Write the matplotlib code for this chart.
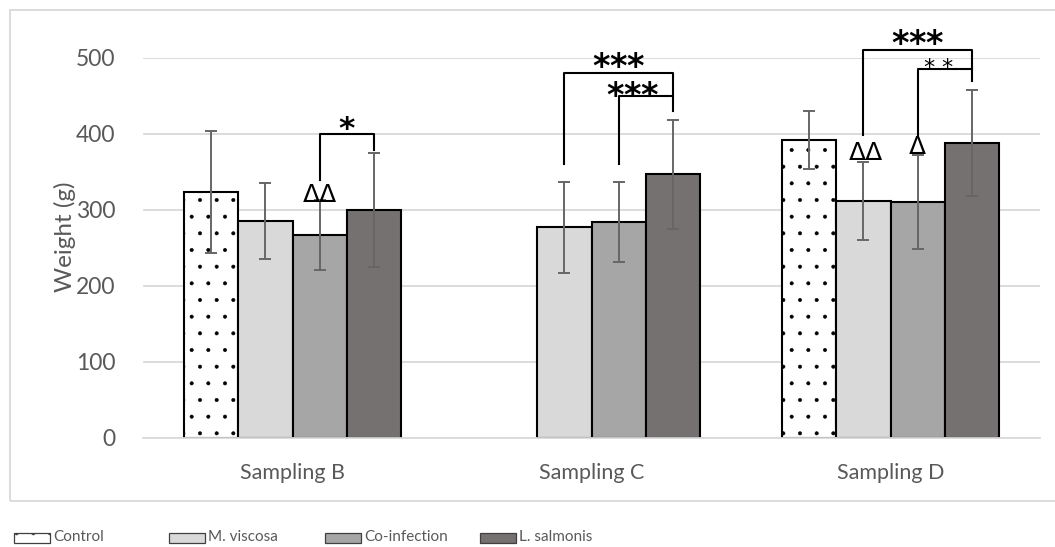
import numpy as np
import matplotlib
matplotlib.use('Agg')
from matplotlib import pyplot as plt
from matplotlib.patches import Rectangle

# weights (g) per sampling, mean and sd
samplings = ['Sampling B', 'Sampling C', 'Sampling D']
groups = ['Control', 'M. viscosa', 'Co-infection', 'L. salmonis']
control = [324, np.nan, 392]
m_viscosa = [286, 277, 312]
co_infection = [267, 284, 311]
l_salmonis = [300, 347, 388]
control_sd = [80, np.nan, 38.5]
m_viscosa_sd = [50, 60, 51.5]
co_infection_sd = [46, 53, 62]
l_salmonis_sd = [75, 71.5, 70]

kolonlar = [control, m_viscosa, co_infection, l_salmonis]
hatalar = [control_sd, m_viscosa_sd, co_infection_sd, l_salmonis_sd]
renkler = ['white', '#D9D9D9', '#A6A6A6', '#767171']
taramalar = ['.', None, None, None]

plt.rcParams['font.family'] = ['Lato', 'DejaVu Sans']
plt.rcParams['hatch.linewidth'] = 0.4
# asterisks go through mathtext so their boxes hug the glyphs
plt.rcParams['mathtext.fontset'] = 'custom'
plt.rcParams['mathtext.rm'] = 'DejaVu Sans:bold'
plt.rcParams['mathtext.sf'] = 'DejaVu Sans'

fig = plt.figure(figsize=(10.55, 5.47), dpi=100)
ax = fig.add_axes([143 / 1055, 1 - 438 / 547, (1040 - 143) / 1055, 380 / 547])

w = 0.1815
x = np.arange(len(samplings))
ofs = [-1.5, -0.5, 0.5, 1.5]
for i in range(4):
    ax.bar(x + ofs[i] * w, kolonlar[i], w, color=renkler[i], edgecolor='black',
           linewidth=1.5, hatch=taramalar[i], zorder=2)
    ax.errorbar(x + ofs[i] * w, kolonlar[i], yerr=hatalar[i], fmt='none',
                ecolor='#666666', elinewidth=1.4, capsize=4, capthick=1.4, zorder=3)

ax.set_xlim(-0.5, 2.5)
ax.set_ylim(0, 500)
ax.set_yticks([0, 100, 200, 300, 400, 500])
ax.yaxis.grid(True, color='#D9D9D9', linewidth=1.3, zorder=0)
ax.set_axisbelow(True)
for s in ['top', 'right', 'left']:
    ax.spines[s].set_visible(False)
ax.spines['bottom'].set_color('#D9D9D9')
ax.spines['bottom'].set_linewidth(1.3)
ax.set_xticks(x)
ax.set_xticklabels(samplings)
ax.tick_params(axis='both', length=0, colors='#595959')
ax.tick_params(axis='y', pad=20, labelsize=16.5)
ax.tick_params(axis='x', pad=18, labelsize=15.5)
ax.set_ylabel('Weight (g)', color='#595959', fontsize=17.5)
ax.yaxis.set_label_coords(-0.075, 0.53)


def orta(k, g):
    return k + ofs[g] * w


def parantez(x1, x2, ust, sol_alt, sag_alt):
    ax.plot([x1, x1, x2, x2], [sol_alt, ust, ust, sag_alt], color='black',
            linewidth=1.5, clip_on=False, zorder=4)


def yildizlar(xp, yp, n, kalin=True, boy=24):
    if kalin:
        metin = r'$\mathrm{' + '{*}' * n + '}$'
    else:
        metin = r'$\mathsf{' + r'\ '.join(['{*}'] * n) + '}$'
    ax.text(xp, yp, metin, ha='center', va='baseline', fontsize=boy,
            clip_on=False, zorder=5)


delta = dict(ha='center', va='center', fontsize=18, family='DejaVu Sans',
             clip_on=False, zorder=5)

# Sampling B
parantez(orta(0, 2), orta(0, 3), 400, 339, 379)
yildizlar((orta(0, 2) + orta(0, 3)) / 2, 397, 1, boy=22.5)
ax.text(orta(0, 2), 320, 'ΔΔ', **delta)

# Sampling C
parantez(orta(1, 1), orta(1, 3), 480, 360, 430)
parantez(orta(1, 2), orta(1, 3), 450, 360, 450)
yildizlar((orta(1, 1) + orta(1, 3)) / 2, 478, 3)
yildizlar((orta(1, 2) + orta(1, 3)) / 2 - 0.043, 440, 3)

# Sampling D
parantez(orta(2, 1), orta(2, 3), 510, 399, 470)
parantez(orta(2, 2), orta(2, 3), 485.5, 399, 485.5)
yildizlar((orta(2, 1) + orta(2, 3)) / 2, 508, 3)
yildizlar((orta(2, 2) + orta(2, 3)) / 2 - 0.02, 481, 2, kalin=False, boy=16)
ax.text(orta(2, 1) + 0.01, 375, 'ΔΔ', **delta)
ax.text(orta(2, 2), 383, 'Δ', **delta)

# chart frame
fig.add_artist(Rectangle((10 / 1055, 1 - 501 / 547), 1.1, 491 / 547,
                         transform=fig.transFigure, fill=False,
                         edgecolor='#D9D9D9', linewidth=1.3))

# legend row under the frame
lx = [14, 169, 325, 480]
for i in range(4):
    fig.add_artist(Rectangle((lx[i] / 1055, 1 - 543 / 547), 36 / 1055, 10 / 547,
                             transform=fig.transFigure, facecolor=renkler[i],
                             edgecolor='#404040', linewidth=0.9,
                             hatch=taramalar[i]))
    fig.text((lx[i] + 39) / 1055, 1 - 537 / 547, groups[i], color='#595959',
             fontsize=11, va='center', ha='left')

fig.savefig('out.png', dpi=100)
